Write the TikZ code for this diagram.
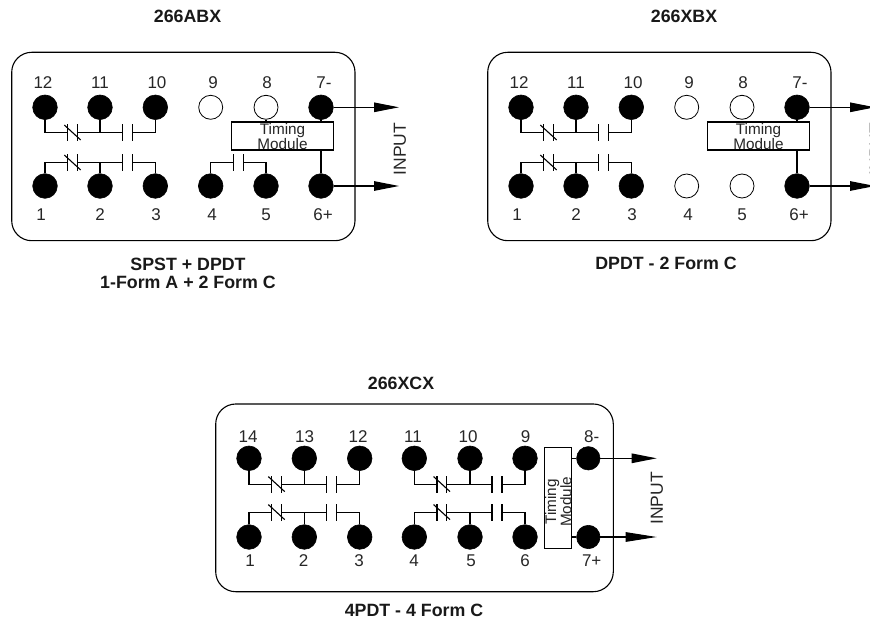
\documentclass[tikz,border=0pt]{standalone}
\usepackage{fontspec}
\setmainfont{Liberation Sans}
\usetikzlibrary{arrows.meta}
\tikzset{
  x=1pt,y=-1pt,
  wire/.style={draw=black,line width=1.1pt},
  panel/.style={draw=black,line width=1.1pt,rounded corners=20pt},
  solidpin/.style={circle,fill=black,draw=black,line width=0.6pt,minimum size=24.6pt,inner sep=0pt},
  openpin/.style={circle,fill=white,draw=black,line width=0.8pt,minimum size=24pt,inner sep=0pt},
  solidsmall/.style={circle,fill=black,draw=black,line width=0.6pt,minimum size=23.4pt,inner sep=0pt},
  num/.style={font=\fontsize{17}{17}\selectfont,text=black!85,inner sep=0pt,anchor=center},
  title/.style={font=\bfseries\fontsize{17.8}{17.8}\selectfont,text=black!90,inner sep=0pt,align=center,anchor=center},
  modbox/.style={draw=black,line width=1.1pt,fill=white,inner sep=0pt},
  modtext/.style={font=\fontsize{15.3}{12.6}\selectfont,text=black!85,inner sep=0pt,align=center},
  inputlabel/.style={font=\fontsize{17.5}{17.5}\selectfont,text=black!85,inner sep=0pt,rotate=90,anchor=center},
  outarrow/.style={wire,-{Triangle[length=25pt,width=9.5pt]}},
  outarrowlong/.style={wire,-{Triangle[length=31pt,width=9.5pt]}},
}
\newcommand{\contactset}[6]{%
  \begin{scope}[shift={(#4,#5)}]
    \coordinate (#6a) at (22.7,0);
    \coordinate (#6b) at (32.3,0);
    \coordinate (#6c) at (77.7,0);
    \coordinate (#6d) at (87.7,0);
    \draw[wire] (22.7,-8.3) -- (22.7,8.3);
    \draw[wire] (32.3,-8.3) -- (32.3,8.3);
    \draw[wire] (19.3,-7.7) -- (35.7,7.3);
    \draw[wire] (77.7,-8.3) -- (77.7,8.3);
    \draw[wire] (87.7,-8.3) -- (87.7,8.3);
  \end{scope}
  \draw[wire] (#1) |- (#6a);
  \draw[wire] (#6b) -- (#6c);
  \draw[wire] (#2) -- (#2 |- #6a);
  \draw[wire] (#3) |- (#6d);
}
\newcommand{\tenpanel}[2]{% #1 x offset, #2 prefix
  \begin{scope}[shift={(#1,0)}]
    \draw[panel] (11.7,52.3) rectangle (355,240.7);
    \node[solidpin] (#2p12) at (45,107.3) {};
    \node[solidpin] (#2p11) at (100,107.3) {};
    \node[solidpin] (#2p10) at (155.3,107.3) {};
    \node[openpin] (#2p9) at (210.7,107.3) {};
    \node[openpin] (#2p8) at (266,107.3) {};
    \node[solidpin] (#2p7) at (321,107.3) {};
    \node[solidpin] (#2p1) at (45,186) {};
    \node[solidpin] (#2p2) at (100,186) {};
    \node[solidpin] (#2p3) at (155.3,186) {};
    \node[solidpin] (#2p6) at (321,186) {};
    \node[num] (#2n12) at (43,83) {12};
    \node[num] (#2n11) at (100,83) {11};
    \node[num] (#2n10) at (157,83) {10};
    \node[num] (#2n9) at (213,83) {9};
    \node[num] (#2n8) at (267,83) {8};
    \node[num] (#2n7) at (324,83) {7-};
    \node[num] (#2n1) at (41,215) {1};
    \node[num] (#2n2) at (100,215) {2};
    \node[num] (#2n3) at (156,215) {3};
    \node[num] (#2n4) at (212,215) {4};
    \node[num] (#2n5) at (266,215) {5};
    \node[num] (#2n6) at (323,215) {6+};
    \node[modbox,minimum width=101.6pt,minimum height=28pt] (#2mod) at (282.5,136) {};
    \node[modtext] (#2modt) at (282.5,136.5) {Timing\\Module};
    \coordinate (#2a7) at (399,107.3);
    \coordinate (#2a6) at (399,186);
    \draw[outarrow] (#2p7) -- (#2a7);
    \draw[outarrow] (#2p6) -- (#2a6);
    \draw[wire] (#2p7) -- (#2p7 |- #2mod.north);
    \draw[wire] (#2p6) -- (#2p6 |- #2mod.south);
    \node[inputlabel] (#2inp) at (400,149) {INPUT};
    \contactset{#2p12}{#2p11}{#2p10}{45}{132.7}{#2u}
    \contactset{#2p1}{#2p2}{#2p3}{45}{162.7}{#2l}
  \end{scope}
}
\begin{document}
\begin{tikzpicture}
\useasboundingbox (0,0) rectangle (870,620);
\clip (0,0) rectangle (870,620);
\node[title] (t1) at (187.5,16) {266ABX};
\node[title] (t2) at (684,16) {266XBX};
\node[title] (t3) at (401,383) {266XCX};
\node[title] (c1) at (188,273) {SPST + DPDT\\1-Form A + 2 Form C};
\node[title] (c2) at (666,263.5) {DPDT - 2 Form C};
\node[title] (c3) at (414,610) {4PDT - 4 Form C};

\tenpanel{0}{a}
\node[solidpin] (ap4) at (210.7,186) {};
\node[solidpin] (ap5) at (266,186) {};
\coordinate (afa) at (233.3,162.7);
\coordinate (afb) at (243.3,162.7);
\draw[wire] (233.3,154.2) -- (233.3,171.2);
\draw[wire] (243.3,154.2) -- (243.3,171.2);
\draw[wire] (ap4) |- (afa);
\draw[wire] (ap5) |- (afb);
\draw[wire] (ap8) -- (ap8 |- amod.north);

\tenpanel{476}{b}
\node[openpin] (bp4) at (686.7,186) {};
\node[openpin] (bp5) at (742,186) {};

% third panel
\draw[panel] (215.7,404) rectangle (613.3,591.7);
\foreach \nm/\xx in {14/249,13/304.3,12/359.7,11/414.3,10/470,9/525}{
  \node[solidpin] (cp\nm) at (\xx,458.3) {};
}
\foreach \nm/\xx in {1/249,2/304.3,3/359.7,4/414.3,5/470,6/525}{
  \node[solidpin] (cp\nm) at (\xx,537) {};
}
\foreach \nm/\xx in {14/248,13/304.7,12/358,11/413,10/468,9/525.7,8-/591.7}{
  \node[num] (cn\nm) at (\xx,436.7) {\nm};
}
\foreach \nm/\xx in {1/250,2/303.5,3/359,4/414,5/471,6/525,7+/591.7}{
  \node[num] (cn\nm) at (\xx,560.7) {\nm};
}
\node[solidsmall] (cp8) at (588.3,458.3) {};
\node[solidsmall] (cp7) at (588.3,537) {};
\node[modbox,minimum width=27.7pt,minimum height=101pt] (cmod) at (557.9,497.8) {};
\node[modtext,rotate=90] (cmodt) at (558.3,501.7) {Timing\\Module};
\coordinate (ca8) at (656.7,458.3);
\coordinate (ca7) at (656.7,537);
\draw[outarrow] (cp8) -- (ca8);
\draw[outarrowlong] (cp7) -- (ca7);
\draw[wire] (cp8) -- (cp8 -| cmod.east);
\draw[wire] (cp7) -- (cp7 -| cmod.east);
\node[inputlabel] (cinp) at (657,498.5) {INPUT};
\contactset{cp14}{cp13}{cp12}{249}{484.3}{cul}
\contactset{cp1}{cp2}{cp3}{249}{512.3}{cll}
\contactset{cp11}{cp10}{cp9}{414.3}{484.3}{cur}
\contactset{cp4}{cp5}{cp6}{414.3}{512.3}{clr}
\end{tikzpicture}
\end{document}
